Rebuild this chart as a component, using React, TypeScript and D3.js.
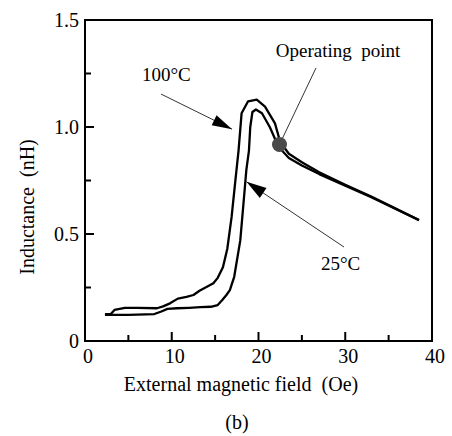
import React from "react";
import * as d3 from "d3";

// Field (Oe) and inductance (nH)
const field100: number[] = [2.3, 3.0, 3.4, 4.6, 6.0, 8.3, 9.0, 9.8, 10.7, 11.7, 12.5, 13.2, 14.0, 14.8, 15.3, 15.9, 16.4, 16.9, 17.3, 17.7, 18.05, 18.8, 19.8, 20.75, 21.9, 22.5, 23.5, 25, 27, 30, 33, 36, 38.5];
const induct100: number[] = [0.125, 0.127, 0.145, 0.155, 0.155, 0.153, 0.162, 0.176, 0.198, 0.206, 0.215, 0.235, 0.252, 0.27, 0.295, 0.345, 0.43, 0.58, 0.737, 0.89, 1.064, 1.12, 1.128, 1.095, 1.017, 0.93, 0.875, 0.835, 0.788, 0.73, 0.675, 0.615, 0.565];

const field25: number[] = [2.3, 5.0, 8.0, 8.8, 9.5, 10.6, 12.0, 13.3, 14.5, 15.3, 15.8, 16.3, 16.7, 17.2, 17.9, 18.2, 18.6, 18.9, 19.05, 19.3, 19.7, 20.4, 21.3, 22.3, 23.5, 25, 27, 30, 33, 36, 38.5];
const induct25: number[] = [0.122, 0.122, 0.126, 0.138, 0.15, 0.153, 0.155, 0.158, 0.16, 0.168, 0.19, 0.215, 0.238, 0.3, 0.47, 0.61, 0.8, 0.89, 1.0, 1.07, 1.082, 1.064, 1.0, 0.908, 0.855, 0.82, 0.78, 0.726, 0.672, 0.613, 0.565];

const xMajorTicks: number[] = [0, 10, 20, 30, 40];
const xMinorTicks: number[] = [5, 15, 25, 35];
const yMajorTicks: number[] = [0, 0.5, 1.0, 1.5];
const yMinorTicks: number[] = [0.25, 0.75, 1.25];
const yTickLabels: string[] = ["0", "0.5", "1.0", "1.5"];
const xTickLabels: string[] = ["0", "10", "20", "30", "40"];

// Annotations in data units
const operatingPoint: [number, number] = [22.42, 0.918];
const opLabelAnchor: [number, number] = [26.63, 1.276];
const opLabelPos: [number, number] = [22.0, 1.328];
const arrow100Tail: [number, number] = [8.76, 1.154];
const arrow100Tip: [number, number] = [16.95, 0.99];
const label100Pos: [number, number] = [6.57, 1.215];
const arrow25Tail: [number, number] = [29.86, 0.439];
const arrow25Tip: [number, number] = [18.62, 0.744];
const label25Pos: [number, number] = [27.2, 0.332];

const FONT = "'Liberation Serif', 'Times New Roman', serif";

function arrowHead(x1: number, y1: number, x2: number, y2: number, len: number, w: number) {
  const dx = x2 - x1, dy = y2 - y1;
  const d = Math.sqrt(dx * dx + dy * dy);
  const ux = dx / d, uy = dy / d;
  const bx = x2 - ux * len, by = y2 - uy * len;
  const px = -uy * (w / 2), py = ux * (w / 2);
  return `${x2},${y2} ${bx + px},${by + py} ${bx - px},${by - py}`;
}

export default function App() {
  const W = 452, H = 436;
  const x = d3.scaleLinear().domain([0, 40]).range([85, 432]);
  const y = d3.scaleLinear().domain([0, 1.5]).range([341, 20]);

  const line = d3
    .line<[number, number]>()
    .x((d) => x(d[0]))
    .y((d) => y(d[1]))
    .curve(d3.curveLinear);

  const data100 = field100.map((f, i) => [f, induct100[i]] as [number, number]);
  const data25 = field25.map((f, i) => [f, induct25[i]] as [number, number]);

  const [x0, x1] = x.range();
  const [y0, y1] = y.range();

  const a1 = [x(arrow100Tail[0]), y(arrow100Tail[1]), x(arrow100Tip[0]), y(arrow100Tip[1])];
  const a2 = [x(arrow25Tail[0]), y(arrow25Tail[1]), x(arrow25Tip[0]), y(arrow25Tip[1])];

  return (
    <svg
      width={W}
      height={H}
      style={{ position: "absolute", left: 0, top: 0, background: "#fff" }}
      fontFamily={FONT}
    >
      <rect x={0} y={0} width={W} height={H} fill="#fff" />
      {/* curves */}
      <path d={line(data100) || ""} fill="none" stroke="#000" strokeWidth={2.3} strokeLinejoin="round" />
      <path d={line(data25) || ""} fill="none" stroke="#000" strokeWidth={2.3} strokeLinejoin="round" />

      {/* frame */}
      <rect x={x0} y={y1} width={x1 - x0} height={y0 - y1} fill="none" stroke="#000" strokeWidth={2} />

      {/* ticks */}
      {xMajorTicks.map((t) => (
        <line key={"xM" + t} x1={x(t)} x2={x(t)} y1={y0} y2={y0 - 9} stroke="#000" strokeWidth={2} />
      ))}
      {xMinorTicks.map((t) => (
        <line key={"xm" + t} x1={x(t)} x2={x(t)} y1={y0} y2={y0 - 6} stroke="#000" strokeWidth={2} />
      ))}
      {yMajorTicks.map((t) => (
        <line key={"yM" + t} x1={x0} x2={x0 + 9} y1={y(t)} y2={y(t)} stroke="#000" strokeWidth={2} />
      ))}
      {yMinorTicks.map((t) => (
        <line key={"ym" + t} x1={x0} x2={x0 + 6} y1={y(t)} y2={y(t)} stroke="#000" strokeWidth={2} />
      ))}

      {/* tick labels */}
      {yMajorTicks.map((t, i) => (
        <text key={"yl" + t} x={x0 - 6} y={y(t)} dy="0.33em" textAnchor="end" fontSize={20} fill="#000">
          {yTickLabels[i]}
        </text>
      ))}
      {xMajorTicks.map((t, i) => (
        <text key={"xl" + t} x={x(t) + 3} y={363} textAnchor="middle" fontSize={20} fill="#000">
          {xTickLabels[i]}
        </text>
      ))}

      {/* axis titles */}
      <text x={241} y={391} textAnchor="middle" fontSize={20} fill="#000" style={{ whiteSpace: "pre" }}>
        {"External magnetic field  (Oe)"}
      </text>
      <text
        transform={`translate(34,207) rotate(-90)`}
        textAnchor="middle"
        fontSize={20}
        fill="#000"
        style={{ whiteSpace: "pre" }}
      >
        {"Inductance  (nH)"}
      </text>
      <text x={237} y={429} textAnchor="middle" fontSize={20} fill="#000">
        (b)
      </text>

      {/* annotations */}
      <line x1={a1[0]} y1={a1[1]} x2={a1[2]} y2={a1[3]} stroke="#000" strokeWidth={0.8} />
      <polygon points={arrowHead(a1[0], a1[1], a1[2], a1[3], 20, 11)} fill="#000" />
      <text x={x(label100Pos[0])} y={y(label100Pos[1])} fontSize={19} fill="#000">
        100°C
      </text>

      <line x1={a2[0]} y1={a2[1]} x2={a2[2]} y2={a2[3]} stroke="#000" strokeWidth={0.8} />
      <polygon points={arrowHead(a2[0], a2[1], a2[2], a2[3], 20, 12)} fill="#000" />
      <text x={x(label25Pos[0])} y={y(label25Pos[1])} fontSize={19} fill="#000">
        25°C
      </text>

      <line
        x1={x(opLabelAnchor[0])}
        y1={y(opLabelAnchor[1])}
        x2={x(operatingPoint[0])}
        y2={y(operatingPoint[1])}
        stroke="#000"
        strokeWidth={0.8}
      />
      <circle cx={x(operatingPoint[0])} cy={y(operatingPoint[1])} r={7.5} fill="#4a4a4a" />
      <text
        x={x(opLabelPos[0])}
        y={y(opLabelPos[1])}
        fontSize={19}
        fill="#000"
        style={{ whiteSpace: "pre" }}
      >
        {"Operating  point"}
      </text>
    </svg>
  );
}
